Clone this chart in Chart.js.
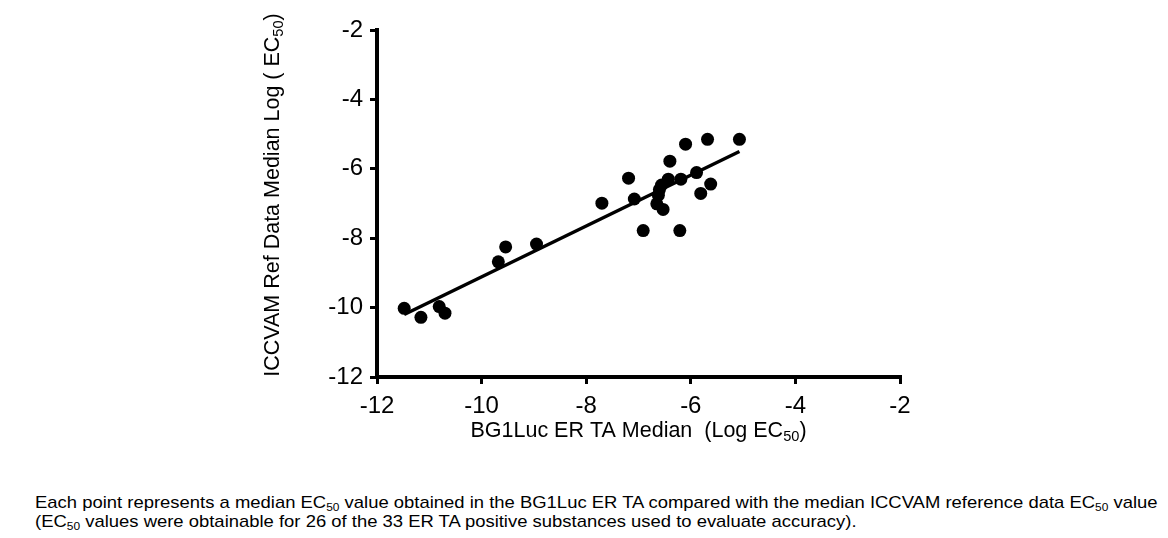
<!DOCTYPE html>
<html lang="en">
    <head>
        <meta charset="UTF-8">
        <script src="https://cdn.jsdelivr.net/npm/chart.js@4.4.0/dist/chart.umd.min.js"></script>
        <title>BG1Luc ER TA vs ICCVAM</title>
        <style>
            body { margin: 0; background: #fff; overflow: hidden; width: 1168px; height: 538px; position: relative; }
            #graph { position: absolute; left: 0; top: 0; }
            #caption {
                position: absolute; left: 35px; top: 493px;
                font-family: "Liberation Sans", Arial, sans-serif; font-size: 17px; line-height: 19px;
                color: #000; white-space: nowrap;
                transform: scaleX(1.085); transform-origin: 0 0;
            }
            #caption sub { font-size: 11px; vertical-align: -3px; line-height: 0; }
        </style>
    </head>

    <body>
        <canvas id="graph" width="1168" height="460"></canvas>
        <div id="caption">
            Each point represents a median EC<sub>50</sub> value obtained in the BG1Luc ER TA compared with the median ICCVAM reference data EC<sub>50</sub> value<br>
            (EC<sub>50</sub> values were obtainable for 26 of the 33 ER TA positive substances used to evaluate accuracy).
        </div>
        <script>
            // tick labels
            const xTicks = [-12, -10, -8, -6, -4, -2];
            const yTicks = [-12, -10, -8, -6, -4, -2];

            // BG1Luc ER TA median log EC50 (x) vs ICCVAM ref median log EC50 (y)
            const bg1luc = [-11.48, -11.16, -10.81, -10.70, -9.68, -9.54, -8.95, -7.70, -7.19, -7.08,
                            -6.91, -6.65, -6.53, -6.62, -6.56, -6.43, -6.40, -6.19, -6.21, -6.10,
                            -5.89, -5.81, -5.68, -5.62, -5.07, -6.60];
            const iccvam = [-10.02, -10.28, -9.97, -10.16, -8.68, -8.25, -8.17, -6.99, -6.27, -6.87,
                            -7.78, -7.01, -7.17, -6.76, -6.47, -6.30, -5.78, -6.30, -7.78, -5.29,
                            -6.11, -6.71, -5.15, -6.44, -5.15, -6.60];

            // regression line end points
            const fitX = [-11.48, -5.07];
            const fitY = [-10.20, -5.50];

            const FONT = '"Liberation Sans", Arial, sans-serif';

            // axis titles with a subscript, drawn on the canvas
            function drawSubText(ctx, parts, size) {
                let total = 0;
                parts.forEach(p => {
                    ctx.font = (p.sub ? size * 0.68 : size) + 'px ' + FONT;
                    p.w = ctx.measureText(p.t).width;
                    total += p.w;
                });
                let x = -total / 2;
                parts.forEach(p => {
                    ctx.font = (p.sub ? size * 0.68 : size) + 'px ' + FONT;
                    ctx.fillText(p.t, x, p.sub ? size * 0.3 : 0);
                    x += p.w;
                });
            }

            const titles = {
                id: 'titles',
                afterDraw(chart) {
                    const ctx = chart.ctx;
                    const a = chart.chartArea;
                    ctx.save();
                    ctx.fillStyle = '#000';
                    ctx.textBaseline = 'middle';
                    ctx.textAlign = 'left';
                    ctx.translate((a.left + a.right) / 2, 431);
                    drawSubText(ctx, [{t: 'BG1Luc ER TA Median  (Log EC'}, {t: '50', sub: true}, {t: ')'}], 21.5);
                    ctx.restore();

                    ctx.save();
                    ctx.fillStyle = '#000';
                    ctx.textBaseline = 'middle';
                    ctx.textAlign = 'left';
                    ctx.translate(273, 195);
                    ctx.rotate(-Math.PI / 2);
                    drawSubText(ctx, [{t: 'ICCVAM Ref Data Median Log ( EC'}, {t: '50', sub: true}, {t: ')'}], 21.5);
                    ctx.restore();
                }
            };

            const axisStyle = (ticks, pad) => ({
                type: 'linear',
                min: ticks[0],
                max: ticks[ticks.length - 1],
                afterBuildTicks: s => { s.ticks = ticks.map(v => ({value: v})); },
                border: {display: true, color: '#000', width: 4},
                grid: {drawOnChartArea: false, drawTicks: true, tickLength: 7, lineWidth: 3, color: '#000'},
                ticks: {color: '#000', font: {family: FONT, size: 24}, padding: pad}
            });

            const xAxis = axisStyle(xTicks, 8);
            xAxis.afterFit = s => { s.height = 83; };
            const yAxis = axisStyle(yTicks, 7);
            yAxis.afterFit = s => { s.width = 377; };

            new Chart(document.getElementById('graph').getContext('2d'), {
                type: 'scatter',
                data: {
                    datasets: [{
                        type: 'line',
                        data: fitX.map((x, i) => ({x: x, y: fitY[i]})),
                        borderColor: '#000',
                        borderWidth: 3.5,
                        pointRadius: 0,
                        fill: false
                    }, {
                        data: bg1luc.map((x, i) => ({x: x, y: iccvam[i]})),
                        backgroundColor: '#000',
                        borderColor: '#000',
                        pointRadius: 6.5,
                        borderWidth: 0
                    }]
                },
                options: {
                    responsive: false,
                    animation: false,
                    layout: {padding: {left: 0, top: 30, right: 268, bottom: 0}},
                    plugins: {legend: {display: false}, tooltip: {enabled: false}},
                    scales: {x: xAxis, y: yAxis}
                },
                plugins: [titles]
            });
        </script>
    </body>
</html>
